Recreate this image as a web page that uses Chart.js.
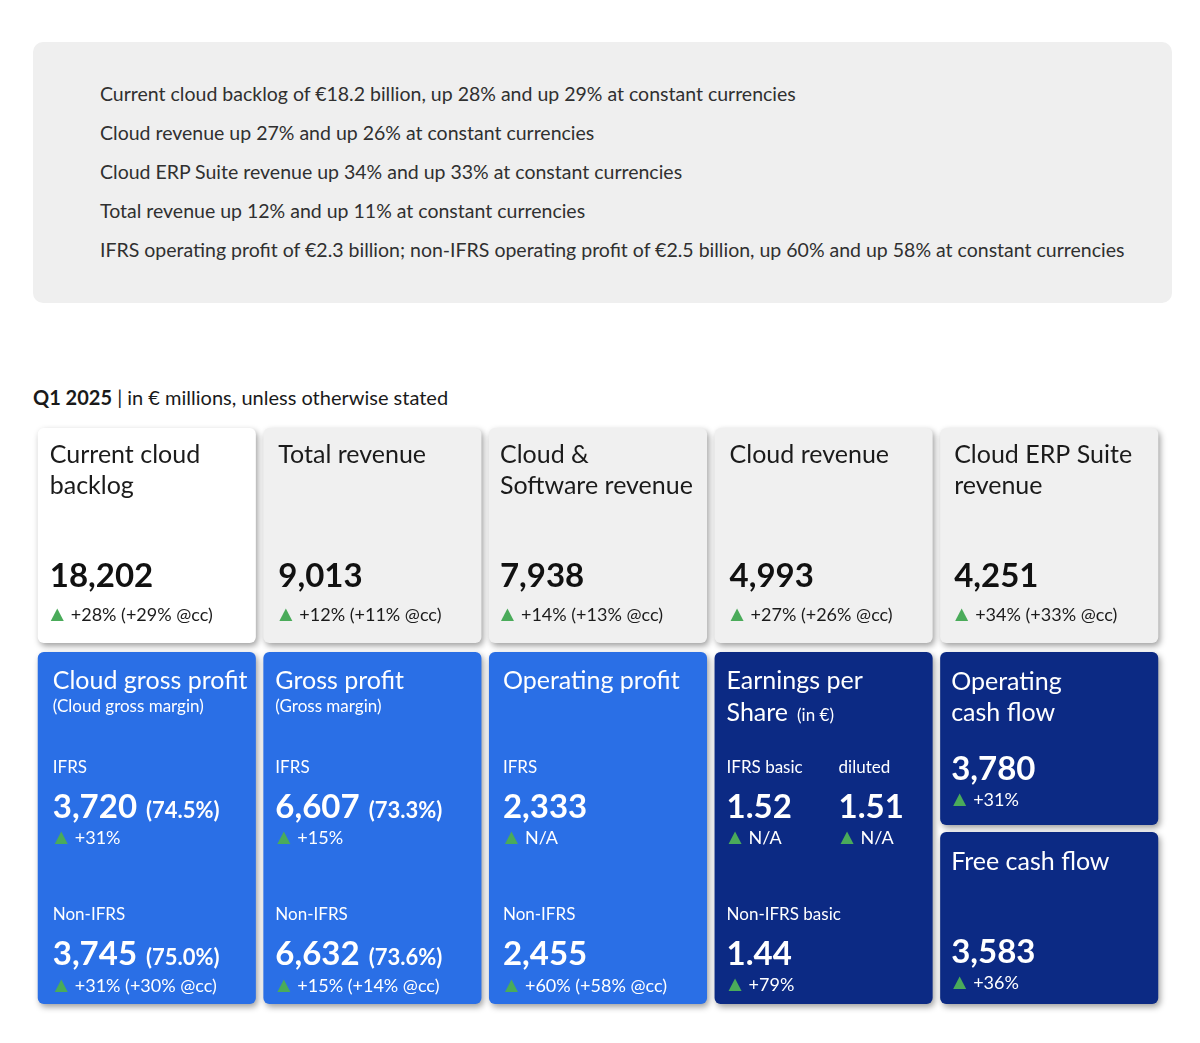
<!DOCTYPE html>
<html>
<head>
<meta charset="utf-8">
<script src="https://cdn.jsdelivr.net/npm/chart.js@4.4.1/dist/chart.umd.min.js"></script>
<style>
  body { margin: 0; background: #fff; font-family: Lato, "Noto Sans", sans-serif; }
  #summary { position: absolute; left: 33px; top: 42px; width: 1139px; height: 261px; background: #efefef; border-radius: 10px; }
  #summary div { position: absolute; left: 67px; font-size: 19.5px; color: #303030; line-height: 24px; white-space: nowrap; }
  #heading { position: absolute; left: 33px; top: 385px; font-size: 20px; color: #1a1a1a; line-height: 24px; }
  #heading b { font-weight: 700; }
  #wrap { position: absolute; left: 0; top: 420px; }
</style>
</head>
<body>
<div id="summary"></div>
<div id="heading"><b>Q1 2025</b> | in € millions, unless otherwise stated</div>
<div id="wrap"><canvas id="tiles" width="1200" height="600"></canvas></div>

<script>
// ========== DATA ==========
const highlights = [
  "Current cloud backlog of €18.2 billion, up 28% and up 29% at constant currencies",
  "Cloud revenue up 27% and up 26% at constant currencies",
  "Cloud ERP Suite revenue up 34% and up 33% at constant currencies",
  "Total revenue up 12% and up 11% at constant currencies",
  "IFRS operating profit of €2.3 billion; non-IFRS operating profit of €2.5 billion, up 60% and up 58% at constant currencies"
];

// top row KPIs
const revenueTitles = [["Current cloud", "backlog"], ["Total revenue"], ["Cloud &", "Software revenue"], ["Cloud revenue"], ["Cloud ERP Suite", "revenue"]];
const revenueValues = [18202, 9013, 7938, 4993, 4251];
const revenueGrowth = [28, 12, 14, 27, 34];
const revenueGrowthCC = [29, 11, 13, 26, 33];

// profit tiles
const profitTitles = ["Cloud gross profit", "Gross profit", "Operating profit"];
const profitSubtitles = ["(Cloud gross margin)", "(Gross margin)", ""];
const ifrsValues = [3720, 6607, 2333];
const ifrsMargins = [74.5, 73.3, null];
const ifrsGrowth = ["+31%", "+15%", "N/A"];
const nonIfrsValues = [3745, 6632, 2455];
const nonIfrsMargins = [75.0, 73.6, null];
const nonIfrsGrowth = [31, 15, 60];
const nonIfrsGrowthCC = [30, 14, 58];

// earnings per share (in €)
const epsLabels = ["IFRS basic", "diluted", "Non-IFRS basic"];
const epsValues = [1.52, 1.51, 1.44];
const epsGrowth = ["N/A", "N/A", "+79%"];

// cash flow
const cashTitles = [["Operating", "cash flow"], ["Free cash flow"]];
const cashValues = [3780, 3583];
const cashGrowth = [31, 36];

// ========== SUMMARY BOX ==========
const summary = document.getElementById("summary");
highlights.forEach((line, i) => {
  const d = document.createElement("div");
  d.style.top = (40 + i * 39) + "px";
  d.textContent = line;
  summary.appendChild(d);
});

// ========== TILE GRID (floating bars) ==========
const WHITE = "#ffffff";
const GREY = "#f0f0f0";
const BLUE = "#2a6fe6";
const NAVY = "#0c2a84";
const GREEN = "#4aab5a";
const FONT = "Lato, 'Noto Sans', sans-serif";

// row spans on the (reversed) y scale
const topRow = [4, 219];
const bottomRow = [228, 580];
const ocfSpan = [228, 401];
const fcfSpan = [408, 580];

const columns = ["c1", "c2", "c3", "c4", "c5"];

const fmt = n => n.toLocaleString("en-US");
const pct = n => (n >= 0 ? "+" : "") + n + "%";

function tileBox(chart, ds, i) {
  const el = chart.getDatasetMeta(ds).data[i];
  const p = el.getProps(["x", "y", "base", "width"], true);
  return { left: p.x - p.width / 2, top: Math.min(p.y, p.base) };
}

function txt(c, s, x, y, font, color) {
  c.font = font;
  c.fillStyle = color;
  c.fillText(s, x, y);
  return c.measureText(s).width;
}

function growthLine(c, s, x, y, color) {
  // green up-triangle, then the text
  c.beginPath();
  c.moveTo(x, y);
  c.lineTo(x + 6.5, y - 12.5);
  c.lineTo(x + 13, y);
  c.closePath();
  c.fillStyle = GREEN;
  c.fill();
  txt(c, s, x + 20, y, "18px " + FONT, color);
}

const tileText = {
  id: "tileText",
  beforeDatasetsDraw(chart) {
    const c = chart.ctx;
    c.save();
    c.shadowColor = "rgba(0,0,0,0.38)";
    c.shadowBlur = 6;
    c.shadowOffsetX = 2;
    c.shadowOffsetY = 3;
  },
  afterDatasetsDraw(chart) {
    const c = chart.ctx;
    c.restore();
    c.save();
    c.textBaseline = "alphabetic";

    // top row
    const insetTop = [12, 15, 11, 15, 14];
    revenueTitles.forEach((t, i) => {
      const b = tileBox(chart, 0, i);
      const L = b.left + insetTop[i];
      t.forEach((line, k) => txt(c, line, L, b.top + 35 + k * 31, "25px " + FONT, "#1b1b1b"));
      txt(c, fmt(revenueValues[i]), L, b.top + 159, "bold 33px " + FONT, "#111");
      growthLine(c, pct(revenueGrowth[i]) + " (" + pct(revenueGrowthCC[i]) + " @cc)", L + 1, b.top + 193, "#1b1b1b");
    });

    // profit tiles
    const insetBottom = [15, 12, 14, 12, 11];
    profitTitles.forEach((t, i) => {
      const b = tileBox(chart, 1, i);
      const L = b.left + insetBottom[i];
      const T = b.top;
      txt(c, t, L, T + 37, "25px " + FONT, WHITE);
      if (profitSubtitles[i]) txt(c, profitSubtitles[i], L, T + 60, "17px " + FONT, WHITE);
      txt(c, "IFRS", L, T + 121, "17px " + FONT, WHITE);
      let w = txt(c, fmt(ifrsValues[i]), L, T + 166, "bold 33px " + FONT, WHITE);
      if (ifrsMargins[i] != null) txt(c, "(" + ifrsMargins[i].toFixed(1) + "%)", L + w + 9, T + 166, "bold 22px " + FONT, WHITE);
      growthLine(c, ifrsGrowth[i], L + 2, T + 192, WHITE);
      txt(c, "Non-IFRS", L, T + 268, "17px " + FONT, WHITE);
      w = txt(c, fmt(nonIfrsValues[i]), L, T + 313, "bold 33px " + FONT, WHITE);
      if (nonIfrsMargins[i] != null) txt(c, "(" + nonIfrsMargins[i].toFixed(1) + "%)", L + w + 9, T + 313, "bold 22px " + FONT, WHITE);
      growthLine(c, pct(nonIfrsGrowth[i]) + " (" + pct(nonIfrsGrowthCC[i]) + " @cc)", L + 2, T + 340, WHITE);
    });

    // earnings per share
    {
      const b = tileBox(chart, 1, 3);
      const L = b.left + insetBottom[3];
      const T = b.top;
      txt(c, "Earnings per", L, T + 37, "25px " + FONT, WHITE);
      const w = txt(c, "Share", L, T + 69, "25px " + FONT, WHITE);
      txt(c, "(in €)", L + w + 9, T + 69, "17px " + FONT, WHITE);
      [0, 1].forEach(k => {
        const x = L + k * 112;
        txt(c, epsLabels[k], x, T + 121, "17px " + FONT, WHITE);
        txt(c, epsValues[k].toFixed(2), x, T + 166, "bold 33px " + FONT, WHITE);
        growthLine(c, epsGrowth[k], x + 2, T + 192, WHITE);
      });
      txt(c, epsLabels[2], L, T + 268, "17px " + FONT, WHITE);
      txt(c, epsValues[2].toFixed(2), L, T + 313, "bold 33px " + FONT, WHITE);
      growthLine(c, epsGrowth[2], L + 2, T + 339, WHITE);
    }

    // cash flow tiles
    cashTitles.forEach((t, k) => {
      const b = tileBox(chart, 2 + k, 4);
      const L = b.left + insetBottom[4];
      const T = b.top;
      t.forEach((line, j) => txt(c, line, L, T + 38 + j * 31, "25px " + FONT, WHITE));
      const valY = k === 0 ? 128 : 131;
      txt(c, fmt(cashValues[k]), L, T + valY, "bold 33px " + FONT, WHITE);
      growthLine(c, pct(cashGrowth[k]), L + 2, T + valY + 26, WHITE);
    });

    c.restore();
  }
};

const barStyle = {
  borderRadius: 6,
  borderSkipped: false,
  barPercentage: 0.9667,
  categoryPercentage: 1,
  clip: false
};

new Chart(document.getElementById("tiles"), {
  type: "bar",
  data: {
    labels: columns,
    datasets: [
      { ...barStyle, label: "Revenue", data: columns.map(() => topRow), backgroundColor: [WHITE, GREY, GREY, GREY, GREY] },
      { ...barStyle, label: "Profit & EPS", data: [bottomRow, bottomRow, bottomRow, bottomRow, null], backgroundColor: [BLUE, BLUE, BLUE, NAVY, NAVY] },
      { ...barStyle, label: "Operating cash flow", data: [null, null, null, null, ocfSpan], backgroundColor: NAVY },
      { ...barStyle, label: "Free cash flow", data: [null, null, null, null, fcfSpan], backgroundColor: NAVY }
    ]
  },
  options: {
    responsive: false,
    animation: false,
    layout: { padding: { left: 34, right: 38, top: 4, bottom: 13 } },
    plugins: { legend: { display: false }, tooltip: { enabled: false } },
    scales: {
      x: { stacked: true, display: false, offset: true },
      y: { min: 0, max: 583, reverse: true, display: false }
    }
  },
  plugins: [tileText]
});
</script>
</body>
</html>
